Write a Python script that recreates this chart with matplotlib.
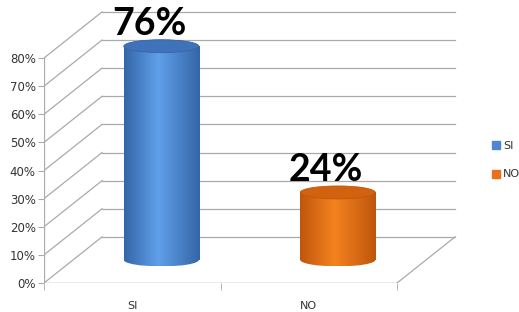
import numpy as np
import matplotlib.pyplot as plt
from matplotlib.patches import Ellipse, Rectangle, Patch
from matplotlib.colors import LinearSegmentedColormap

categories = ['SI', 'NO']
values = [76, 24]
value_labels = ['76%', '24%']
yticks = [0, 10, 20, 30, 40, 50, 60, 70, 80]
ytick_labels = ['0%', '10%', '20%', '30%', '40%', '50%', '60%', '70%', '80%']

# colores: (borde, centro, tapa, leyenda)
colors = [('#3565a8', '#5fa0ea', '#3f72b8', '#4f86d0'),
          ('#bf560c', '#f5821f', '#d26210', '#e8711a')]

grid_c = '#aaaaaa'
dx, dy = 0.329, 16.4     # profundidad 3D en unidades de datos
w, eh = 0.425, 4.6       # ancho del cilindro y alto de la elipse

fig = plt.figure(figsize=(5.19, 3.12), dpi=100)
ax = fig.add_axes([44 / 519, 29 / 312, 441.25 / 519, 281.25 / 312])
ax.set_xlim(-0.5, 2.0)
ax.set_ylim(0, 100)
for s in ax.spines.values():
    s.set_visible(False)

# paredes y piso
for v in yticks:
    ax.plot([-0.5 + dx, 1.5 + dx], [v + dy, v + dy], color=grid_c, lw=0.9, zorder=1)
    ax.plot([-0.5, -0.5 + dx], [v, v + dy], color=grid_c, lw=0.9, zorder=1)
ax.plot([-0.5, -0.5], [0, 80], color=grid_c, lw=0.9, zorder=1)
ax.plot([-0.5, 1.5], [0, 0], color='#999999', lw=1, zorder=1)
ax.plot([1.5, 1.5 + dx], [0, dy], color=grid_c, lw=0.9, zorder=1)

ax.set_yticks(yticks)
ax.set_yticklabels(ytick_labels)
ax.tick_params(axis='y', length=4, color=grid_c, pad=2, labelsize=8.5, labelcolor='#333333')
ax.set_xticks([0, 1])
ax.set_xticklabels(categories)
ax.set_xticks([-0.5, 0.5, 1.5], minor=True)
ax.tick_params(axis='x', which='major', length=0, pad=13, labelsize=8, labelcolor='#333333')
ax.tick_params(axis='x', which='minor', length=5, color=grid_c)

grad = np.linspace(0, 1, 256).reshape(1, -1)
for i, v in enumerate(values):
    edge, mid, top_c, _ = colors[i]
    cmap = LinearSegmentedColormap.from_list('c%d' % i, [(0, edge), (0.45, mid), (1, edge)])
    cx = i + dx / 2
    base = dy / 2
    top = v + dy / 2
    body = Rectangle((cx - w / 2, base), w, top - base, fc='none', ec='none', transform=ax.transData)
    ax.add_patch(body)
    bottom = Ellipse((cx, base), w, eh, fc='none', ec='none', transform=ax.transData)
    ax.add_patch(bottom)
    for clip in (body, bottom):
        im = ax.imshow(grad, cmap=cmap, aspect='auto', zorder=3,
                       extent=(cx - w / 2, cx + w / 2, base - eh / 2, top))
        im.set_clip_path(clip)
    ax.add_patch(Ellipse((cx, top), w, eh, fc=top_c, ec=edge, lw=0.6, zorder=4))
    ax.text(cx - 0.065, top + eh / 2 + 1.6, value_labels[i], ha='center', va='baseline',
            fontsize=27, fontweight='bold', family='Lato', color='black', zorder=5)

ax.set_xlim(-0.5, 2.0)
ax.set_ylim(0, 100)

handles = [Patch(color=c[3]) for c in colors]
fig.legend(handles, categories, loc='upper left', bbox_to_anchor=(486 / 519, 1 - 135 / 312),
           frameon=False, fontsize=8, handlelength=0.75, handleheight=0.75,
           handletextpad=0.3, borderpad=0, labelspacing=1.7, labelcolor='#333333')

fig.savefig('out.png', dpi=100)
